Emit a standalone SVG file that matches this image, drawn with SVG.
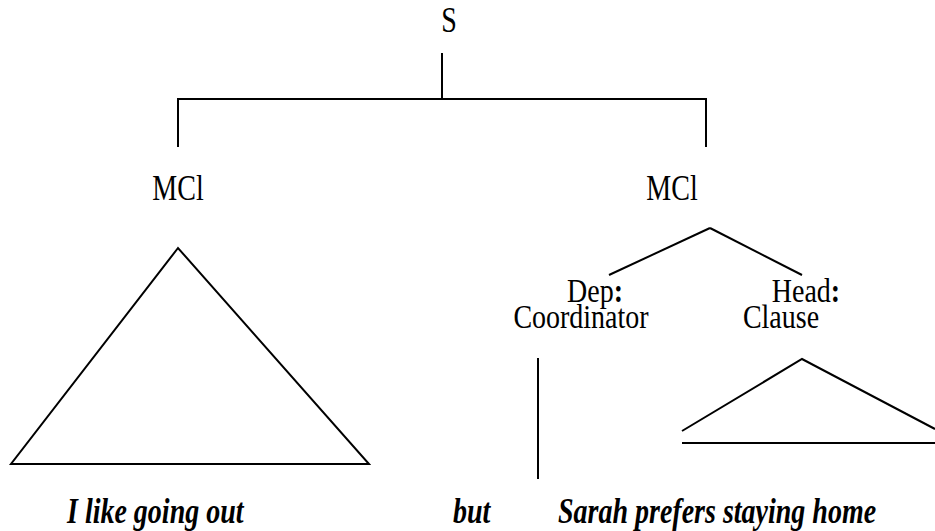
<svg xmlns="http://www.w3.org/2000/svg" width="935" height="531" viewBox="0 0 935 531">
  <style>
    text { font-family: 'Liberation Serif', 'DejaVu Serif', serif; font-size: 28px; fill: #000; }
    .word { font-weight: bold; font-style: italic; }
    .ln { stroke: #000; stroke-width: 2; fill: none; }
  </style>
  <rect width="935" height="531" fill="#fff"/>

  <g id="connectors">
    <!-- S down to the bracket -->
    <line class="ln" x1="442" y1="53" x2="442" y2="100"/>
    <polyline class="ln" points="178,147 178,99 706,99 706,147"/>
    <!-- right MCl branches -->
    <line class="ln" x1="710" y1="228" x2="609" y2="275"/>
    <line class="ln" x1="710" y1="228" x2="802" y2="275"/>
    <!-- coordinator stem -->
    <line class="ln" x1="538" y1="358" x2="538" y2="479"/>
  </g>

  <!-- labels are drawn slightly tall: scaled 1.25 vertically about their baseline -->
  <g id="node-s">
    <text transform="translate(449,32) scale(1,1.25)" text-anchor="middle">S</text>
  </g>

  <g id="node-mcl-left">
    <text transform="translate(178,200) scale(1,1.25)" text-anchor="middle">MCl</text>
    <polygon class="ln" points="178,248 11,464 369,464"/>
  </g>

  <g id="node-mcl-right">
    <text transform="translate(672,200) scale(1,1.25)" text-anchor="middle">MCl</text>
  </g>

  <g id="node-dep">
    <text transform="translate(595,302) scale(1,1.2)" text-anchor="middle">Dep<tspan font-weight="bold">:</tspan></text>
    <text transform="translate(581,328) scale(1,1.2)" text-anchor="middle">Coordinator</text>
  </g>

  <g id="node-head">
    <text transform="translate(806,302) scale(1,1.2)" text-anchor="middle">Head<tspan font-weight="bold">:</tspan></text>
    <text transform="translate(781,328) scale(1,1.2)" text-anchor="middle">Clause</text>
    <polyline class="ln" points="682,431 802,359 935,429"/>
    <line class="ln" x1="682" y1="443" x2="935" y2="443"/>
  </g>

  <g id="words">
    <text class="word" transform="translate(67,523) scale(1,1.25)">I like going out</text>
    <text class="word" transform="translate(453,523) scale(1,1.25)">but</text>
    <text class="word" transform="translate(558,523) scale(1,1.25)">Sarah prefers staying home</text>
  </g>
</svg>
